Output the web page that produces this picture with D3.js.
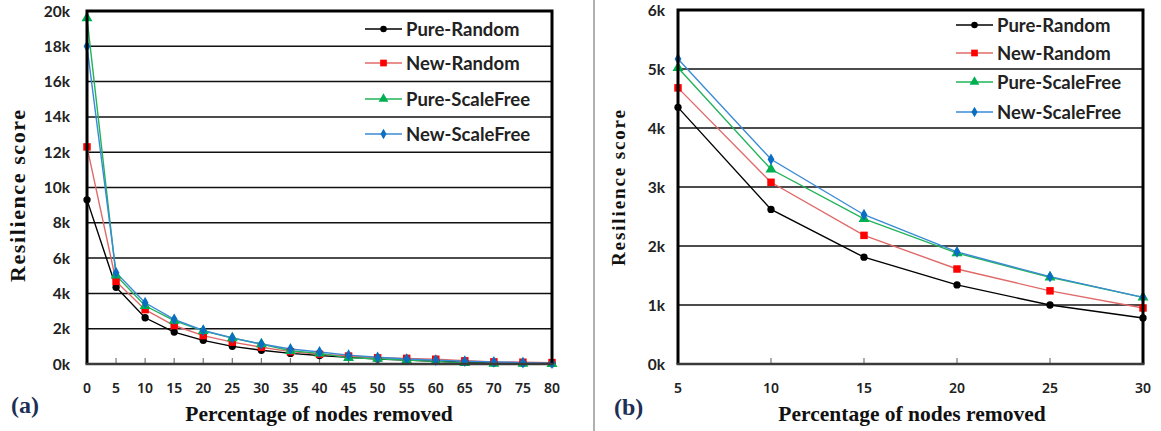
<!DOCTYPE html>
<html><head><meta charset="utf-8">
<script src="https://cdn.jsdelivr.net/npm/d3@7"></script>
<style>body{margin:0;background:#fff}svg{display:block}</style>
</head><body><svg id="c" width="1161" height="431"></svg>
<script>
// ---------- data ----------
const seriesNames = ["Pure-Random", "New-Random", "Pure-ScaleFree", "New-ScaleFree"];
const xA = [0,5,10,15,20,25,30,35,40,45,50,55,60,65,70,75,80];
const pureRandomA   = [9300,4350,2620,1810,1340,1000,780,600,480,380,280,220,160,100,60,40,20];
const newRandomA    = [12300,4680,3080,2180,1610,1240,950,700,550,450,350,320,270,180,120,100,80];
const pureScaleFreeA= [19600,5020,3300,2460,1880,1470,1130,750,600,350,300,220,150,60,30,20,10];
const newScaleFreeA = [18000,5170,3470,2530,1900,1480,1130,850,680,500,380,280,220,160,120,80,50];
const xB = [5,10,15,20,25,30];
const pureRandomB   = [4350,2620,1810,1340,1000,780];
const newRandomB    = [4680,3080,2180,1610,1240,950];
const pureScaleFreeB= [5020,3300,2460,1880,1470,1130];
const newScaleFreeB = [5170,3470,2530,1900,1480,1130];
const yTicksA = [0,2000,4000,6000,8000,10000,12000,14000,16000,18000,20000];
const yTicksB = [0,1000,2000,3000,4000,5000,6000];
const xTicksA = xA;
const xTicksB = xB;

// ---------- styles ----------
const lineColors = ["#000000","#e06a6a","#22b35a","#3a8ad6"];
const markColors = ["#000000","#ff0000","#00b050","#0a6fc2"];
const markTypes = [d3.symbolCircle, d3.symbolSquare, d3.symbolTriangle, d3.symbolDiamond];
const markSizes = [42, 56, 52, 40];

const svg = d3.select("#c");

// divider
svg.append("line").attr("x1",594).attr("x2",594).attr("y1",0).attr("y2",431)
  .attr("stroke","#b0b0b0").attr("stroke-width",2);

function panel(cfg){
  const x = d3.scaleLinear().domain(cfg.xDomain).range([cfg.l, cfg.r]);
  const y = d3.scaleLinear().domain(cfg.yDomain).range([cfg.b, cfg.t]);
  const g = svg.append("g");
  // gridlines
  g.append("g").selectAll("line").data(cfg.yTicks.filter(v=>v>cfg.yDomain[0] && v<cfg.yDomain[1]))
    .join("line").attr("x1",cfg.l).attr("x2",cfg.r).attr("y1",d=>y(d)).attr("y2",d=>y(d))
    .attr("stroke","#111").attr("stroke-width",1.5);
  // x ticks (inward)
  g.append("g").selectAll("line").data(cfg.xTicks).join("line")
    .attr("x1",d=>x(d)).attr("x2",d=>x(d)).attr("y1",cfg.b).attr("y2",cfg.b-6)
    .attr("stroke","#777").attr("stroke-width",1.2);
  // y tick labels
  g.append("g").selectAll("text").data(cfg.yTicks).join("text")
    .attr("x",cfg.l-cfg.yLabOff).attr("y",d=>y(d)).attr("dy","0.36em")
    .attr("text-anchor","end").attr("font-family","Lato").attr("font-weight","bold")
    .attr("font-size",15.5).attr("fill","#222").text(d=>(d/1000)+"k");
  // x tick labels
  g.append("g").selectAll("text").data(cfg.xTicks).join("text")
    .attr("x",d=>x(d)).attr("y",393)
    .attr("text-anchor","middle").attr("font-family","Noto Sans").attr("font-weight","600")
    .attr("font-size",14).attr("fill","#222").text(d=>d);
  // series
  const line = d3.line().x((d,i)=>x(cfg.xs[i])).y(d=>y(d));
  cfg.series.forEach((s,k)=>{
    g.append("path").datum(s).attr("d",line).attr("fill","none")
      .attr("stroke",lineColors[k]).attr("stroke-width",1.4);
  });
  cfg.series.forEach((s,k)=>{
    g.append("g").selectAll("path").data(s).join("path")
      .attr("transform",(d,i)=>`translate(${x(cfg.xs[i])},${y(d)})`)
      .attr("d",d3.symbol().type(markTypes[k]).size(markSizes[k])())
      .attr("fill",markColors[k]);
  });
  // frame
  g.append("path").attr("d",`M${cfg.l},${cfg.b}V${cfg.t}H${cfg.r}V${cfg.b}`)
    .attr("fill","none").attr("stroke","#000").attr("stroke-width",3);
  g.append("line").attr("x1",cfg.l-1.5).attr("x2",cfg.r+1.5).attr("y1",cfg.b).attr("y2",cfg.b)
    .attr("stroke","#3a3a3a").attr("stroke-width",2.5);
  // legend
  seriesNames.forEach((n,k)=>{
    const ly = cfg.legY[k];
    g.append("line").attr("x1",cfg.legX).attr("x2",cfg.legX+37).attr("y1",ly).attr("y2",ly)
      .attr("stroke",lineColors[k]).attr("stroke-width",1.4);
    g.append("path").attr("transform",`translate(${cfg.legX+18.5},${ly})`)
      .attr("d",d3.symbol().type(markTypes[k]).size(markSizes[k]*0.8)()).attr("fill",markColors[k]);
    g.append("text").attr("x",cfg.legX+41).attr("y",ly).attr("dy","0.36em")
      .attr("font-family","Lato").attr("font-weight","bold").attr("font-size",18.5)
      .attr("fill","#222").text(n);
  });
  // axis titles
  g.append("text").attr("transform",`translate(${cfg.yTitleX},${cfg.yTitleY}) rotate(-90)`)
    .attr("text-anchor","middle").attr("font-family","Liberation Serif").attr("font-weight","bold")
    .attr("font-size",cfg.yTitleSize).attr("fill","#111").attr("textLength",cfg.yTitleLen)
    .attr("lengthAdjust","spacing").text("Resilience  score");
  g.append("text").attr("x",cfg.xTitleX).attr("y",421).attr("text-anchor","middle")
    .attr("font-family","Liberation Serif").attr("font-weight","bold").attr("font-size",21.5)
    .attr("fill","#111").text("Percentage of nodes removed");
  g.append("text").attr("x",cfg.tagX).attr("y",cfg.tagY).attr("font-family","Liberation Serif")
    .attr("font-weight","bold").attr("font-size",24).attr("fill","#1c2f55").text(cfg.tag);
}

panel({l:87,r:552,t:11,b:364,xDomain:[0,80],yDomain:[0,20000],
  xs:xA,series:[pureRandomA,newRandomA,pureScaleFreeA,newScaleFreeA],
  yTicks:yTicksA,xTicks:xTicksA,yLabOff:17,
  legX:365,legY:[29,63,99,134],
  yTitleX:25,yTitleY:196,yTitleLen:172,yTitleSize:22,xTitleX:319,tag:"(a)",tagX:11,tagY:413});
panel({l:678,r:1143,t:10,b:364,xDomain:[5,30],yDomain:[0,6000],
  xs:xB,series:[pureRandomB,newRandomB,pureScaleFreeB,newScaleFreeB],
  yTicks:yTicksB,xTicks:xTicksB,yLabOff:13,
  legX:956,legY:[25,53,82,112],
  yTitleX:625,yTitleY:188,yTitleLen:156,yTitleSize:19,xTitleX:912,tag:"(b)",tagX:614,tagY:415});
</script></body></html>
